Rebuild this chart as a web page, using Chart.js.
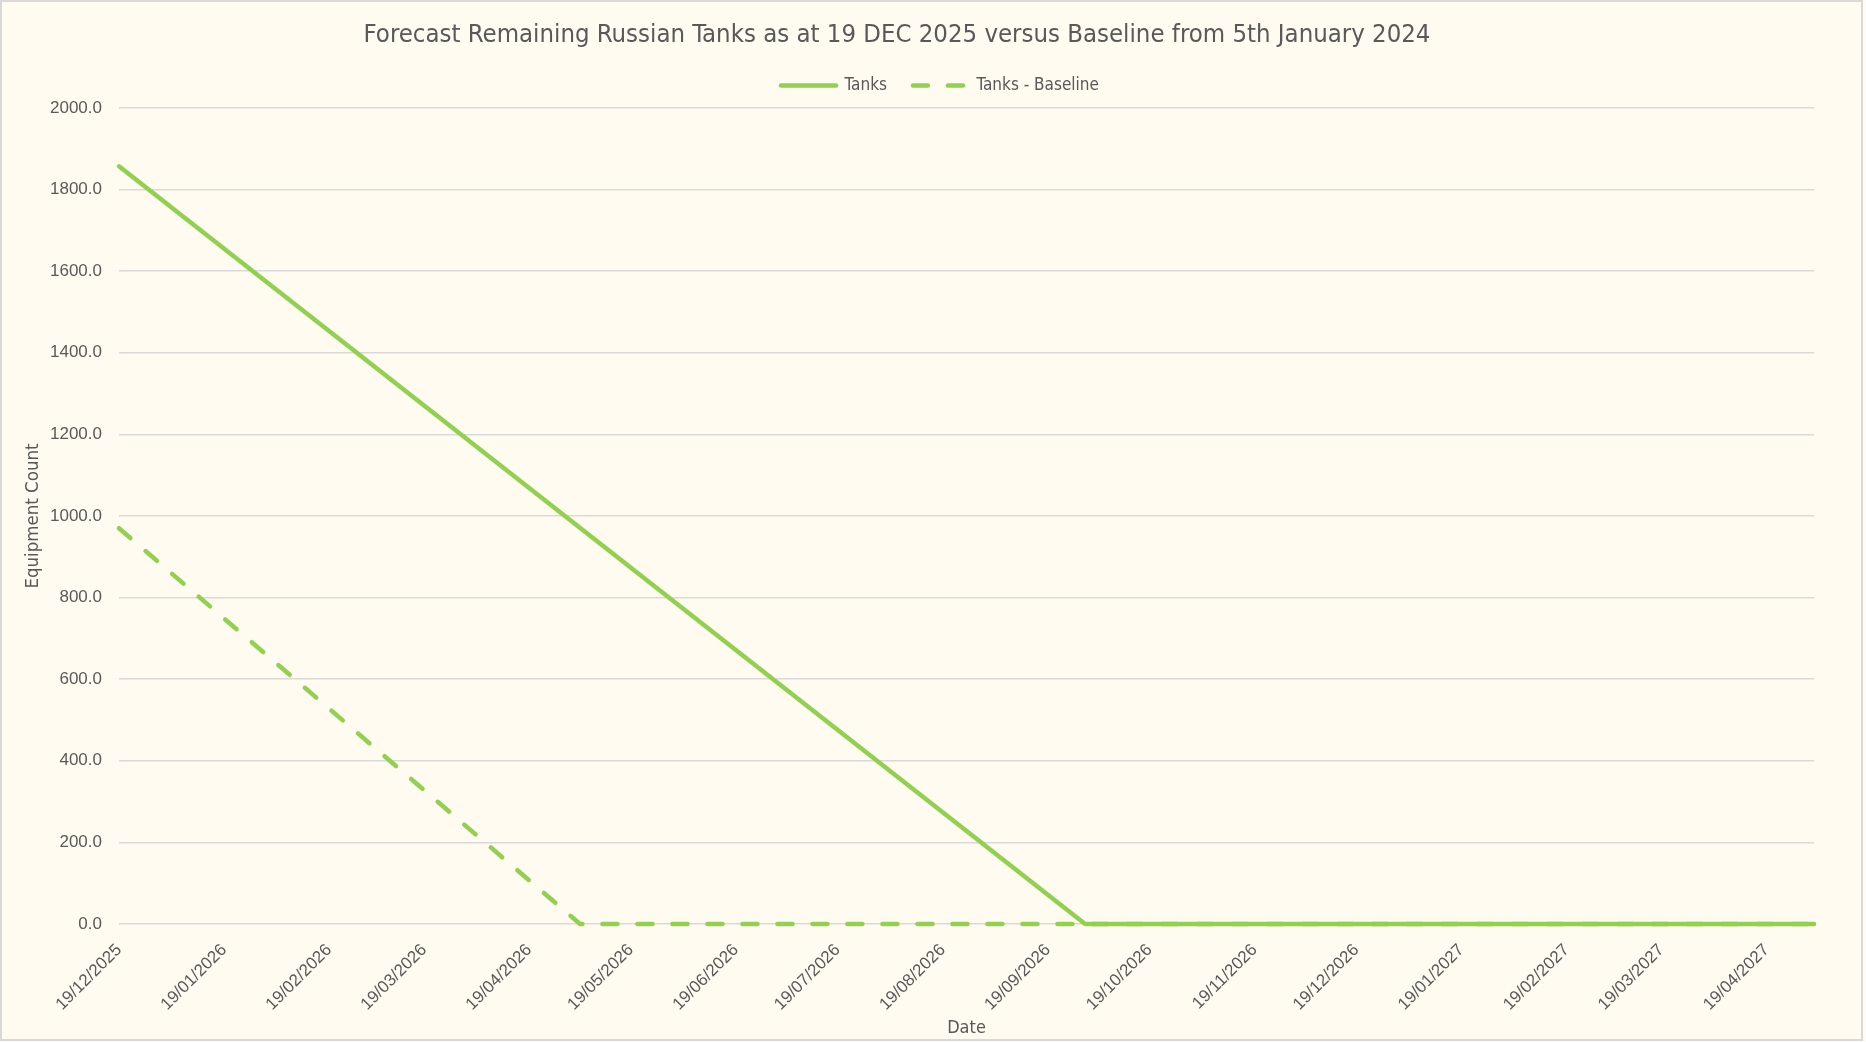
<!DOCTYPE html>
<html>
<head>
<meta charset="utf-8">
<title>Forecast Remaining Russian Tanks</title>
<script src="https://cdn.jsdelivr.net/npm/chart.js@4.4.1/dist/chart.umd.min.js"></script>
<style>
  html, body { margin: 0; padding: 0; background: #fffbf0; }
  #wrap { width: 1866px; height: 1042px; }
</style>
</head>
<body>
<div id="wrap"><canvas id="myChart" width="1866" height="1042"></canvas></div>
<script>
'use strict';

// DATA
const tickLabels = [
  '19/12/2025', '19/01/2026', '19/02/2026', '19/03/2026', '19/04/2026',
  '19/05/2026', '19/06/2026', '19/07/2026', '19/08/2026', '19/09/2026',
  '19/10/2026', '19/11/2026', '19/12/2026', '19/01/2027', '19/02/2027',
  '19/03/2027', '19/04/2027',
];
const axisEnd = '03/05/2027';

// tanks (solid)
const tanksDates = ['19/12/2025', '30/09/2026', '03/05/2027'];
const tanksValues = [1857, 0, 0];

// baseline (dashed)
const baselineDates = ['19/12/2025', '04/05/2026', '03/05/2027'];
const baselineValues = [970, 0, 0];

// STYLE
const green = '#92D050';
const textGrey = '#595959';
const gridGrey = '#D9D9D9';
const narrow = "'Liberation Sans Narrow', 'DejaVu Sans Condensed', sans-serif";
const plain = "'Liberation Sans', Arial, sans-serif";

// HELPERS
// days since the first tick, so a linear axis can act as a date axis
const toDay = function (label) {
  const [d, m, y] = label.split('/').map(Number);
  const [d0, m0, y0] = tickLabels[0].split('/').map(Number);
  return Math.round((Date.UTC(y, m - 1, d) - Date.UTC(y0, m0 - 1, d0)) / 86400000);
};

const toPoints = (dates, values) =>
  dates.map((date, i) => ({ x: toDay(date), y: values[i] }));

const tickDays = tickLabels.map(toDay);

// PLUGINS
const chartBackground = {
  id: 'chartBackground',
  beforeDraw: function (chart) {
    const ctx = chart.ctx;
    ctx.save();
    ctx.fillStyle = '#FFFBF0';
    ctx.fillRect(0, 0, chart.width, chart.height);
    ctx.strokeStyle = gridGrey;
    ctx.lineWidth = 2;
    ctx.strokeRect(1, 1, chart.width - 5, chart.height - 3);
    ctx.restore();
  },
};

// excel placed title + legend by hand, nudge them to match
const boxShift = {
  id: 'boxShift',
  afterInit: function (chart) {
    // a little more room under the legend
    const legend = chart.legend;
    const fit = legend.fit;
    legend.fit = function () {
      fit.call(this);
      this.height += 4;
    };
  },
  afterLayout: function (chart) {
    chart.titleBlock.left = 0;
    chart.titleBlock.right = chart.width - 72;
    chart.legend.left += 33;
    chart.legend.right += 33;
  },
};

// CHART
const ctx = document.getElementById('myChart').getContext('2d');

const chart = new Chart(ctx, {
  type: 'line',
  data: {
    datasets: [
      {
        label: 'Tanks',
        data: toPoints(tanksDates, tanksValues),
        borderColor: green,
        backgroundColor: green,
        borderWidth: 4.5,
        borderCapStyle: 'round',
        borderJoinStyle: 'round',
        pointRadius: 0,
        clip: false,
      },
      {
        label: 'Tanks - Baseline',
        data: toPoints(baselineDates, baselineValues),
        borderColor: green,
        backgroundColor: green,
        borderWidth: 4.5,
        borderDash: [15, 20],
        borderCapStyle: 'round',
        borderJoinStyle: 'round',
        pointRadius: 0,
        clip: false,
      },
    ],
  },
  options: {
    responsive: false,
    animation: false,
    layout: { padding: { top: 0, left: 0, right: 52, bottom: 0 } },
    plugins: {
      tooltip: { enabled: false },
      title: {
        display: true,
        text: 'Forecast Remaining Russian Tanks as at 19 DEC 2025 versus Baseline from 5th January 2024',
        color: textGrey,
        font: { family: narrow, size: 25.5, weight: 'normal' },
        padding: { top: 20.4, bottom: 0 },
      },
      legend: {
        position: 'top',
        labels: {
          usePointStyle: true,
          pointStyle: 'line',
          pointStyleWidth: 55,
          padding: 26,
          color: textGrey,
          font: { family: narrow, size: 17 },
          // point style legends lose the dash, so copy it from the dataset
          generateLabels: function (chart) {
            const items = Chart.defaults.plugins.legend.labels.generateLabels(chart);
            items.forEach(function (item) {
              const ds = chart.data.datasets[item.datasetIndex];
              item.lineDash = ds.borderDash || [];
              item.lineCap = 'round';
              item.lineWidth = ds.borderWidth;
              item.strokeStyle = ds.borderColor;
            });
            return items;
          },
        },
      },
    },
    scales: {
      x: {
        type: 'linear',
        min: 0,
        max: toDay(axisEnd),
        afterBuildTicks: function (scale) {
          scale.ticks = tickDays.map(v => ({ value: v }));
        },
        afterFit: function (scale) {
          scale.height = 118;
        },
        grid: { display: false },
        border: { display: false },
        ticks: {
          autoSkip: false,
          minRotation: 45,
          maxRotation: 45,
          padding: 8,
          color: textGrey,
          font: { family: plain, size: 17 },
          callback: function (value) {
            return tickLabels[tickDays.indexOf(value)];
          },
        },
        title: {
          display: true,
          text: 'Date',
          color: textGrey,
          font: { family: narrow, size: 18 },
          padding: { top: 0, bottom: 3 },
        },
      },
      y: {
        min: 0,
        max: 2000,
        afterFit: function (scale) {
          scale.width = 119;
        },
        grid: { color: gridGrey, lineWidth: 1.5, drawTicks: false },
        border: { display: false },
        ticks: {
          stepSize: 200,
          padding: 17,
          color: textGrey,
          font: { family: plain, size: 17 },
          callback: value => value.toFixed(1),
        },
        title: {
          display: true,
          text: 'Equipment Count',
          color: textGrey,
          font: { family: narrow, size: 18.5 },
          padding: { top: 22, bottom: 0 },
        },
      },
    },
  },
  plugins: [chartBackground, boxShift],
});
</script>
</body>
</html>
